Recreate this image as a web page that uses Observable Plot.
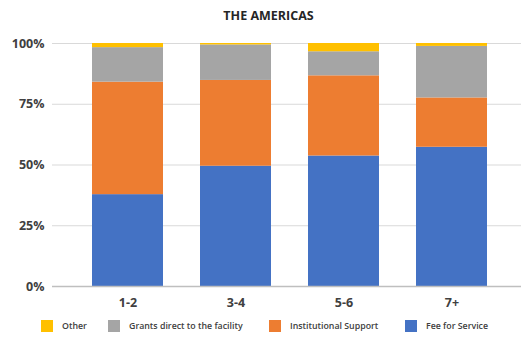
<!DOCTYPE html>
<html><head><meta charset="utf-8">
<script src="https://cdn.jsdelivr.net/npm/d3@7"></script>
<script src="https://cdn.jsdelivr.net/npm/@observablehq/plot@0.6"></script>
<style>
body{margin:0;background:#fff;font-family:"Open Sans",sans-serif;width:523px;height:341px;overflow:hidden}
#title{height:30px;line-height:32px;text-align:center;font-weight:700;font-size:12.5px;color:#262626;padding-left:14px}
#legend{display:flex;align-items:center;font-size:8.8px;font-weight:600;color:#404040;height:24px;margin-top:0px}
.it{display:flex;align-items:center;position:absolute}
.sw{width:12px;height:12px;margin-right:9px}
</style></head><body>
<div id="title">THE AMERICAS</div>
<div id="chart"></div>
<div id="legend"></div>
<script>
const categories = ["1-2", "3-4", "5-6", "7+"];
const seriesNames = ["Fee for Service", "Institutional Support", "Grants direct to the facility", "Other"];
const feeForService = [37.8, 49.5, 53.7, 57.3];
const institutionalSupport = [46.3, 35.3, 33.0, 20.3];
const grantsDirect = [14.2, 14.6, 9.9, 21.2];
const other = [1.7, 0.6, 3.4, 1.2];
const colors = ["#4472C4", "#ED7D31", "#A5A5A5", "#FFC000"];
const yTicks = [0, 25, 50, 75, 100];

const seriesValues = [feeForService, institutionalSupport, grantsDirect, other];
const data = [];
seriesNames.forEach((s, si) => categories.forEach((c, ci) => data.push({cat: c, series: s, value: seriesValues[si][ci]})));

const chart = Plot.plot({
  width: 523, height: 286,
  marginTop: 13, marginBottom: 30, marginLeft: 52, marginRight: 2,
  style: {fontFamily: "Open Sans, sans-serif", fontSize: "12.5px", fontWeight: 700, color: "#404040", background: "#fff"},
  x: {domain: categories, insetLeft: 20, insetRight: 15, paddingInner: 0.345, paddingOuter: 0.1725, label: null},
  y: {domain: [0, 100], label: null},
  color: {domain: seriesNames, range: colors},
  marks: [
    Plot.gridY(yTicks, {stroke: "#d9d9d9", strokeOpacity: 1}),
    Plot.barY(data, {x: "cat", y: "value", fill: "series", order: seriesNames}),
    Plot.ruleY([0], {stroke: "#bfbfbf", strokeWidth: 1.5}),
    Plot.axisY(yTicks, {tickSize: 0, tickPadding: 8, tickFormat: d => d + "%", fontWeight: 700}),
    Plot.axisX({tickSize: 0, tickPadding: 12, fontWeight: 700})
  ]
});
document.getElementById("chart").appendChild(chart);

const legendOrder = ["Other", "Grants direct to the facility", "Institutional Support", "Fee for Service"];
const legendX = [41, 108, 269, 405];
const legend = document.getElementById("legend");
legend.style.position = "relative";
legendOrder.forEach((name, i) => {
  const it = document.createElement("div");
  it.className = "it";
  it.style.left = legendX[i] + "px";
  it.style.top = "4px";
  const sw = document.createElement("div");
  sw.className = "sw";
  sw.style.background = colors[seriesNames.indexOf(name)];
  const t = document.createElement("span");
  t.textContent = name;
  it.appendChild(sw); it.appendChild(t);
  legend.appendChild(it);
});
</script></body></html>
